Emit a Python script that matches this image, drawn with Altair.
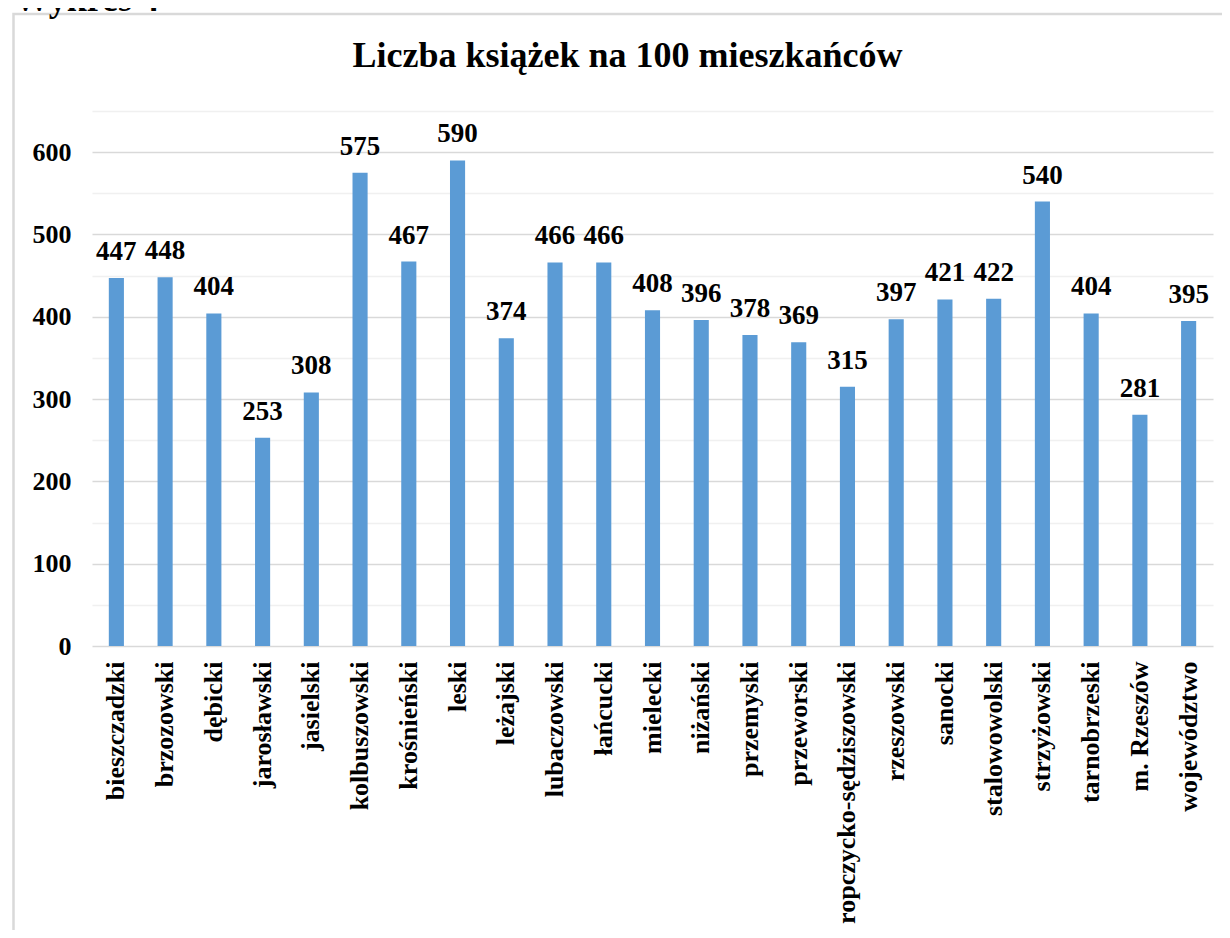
import altair as alt
import pandas as pd

categories = ["bieszczadzki", "brzozowski", "dębicki", "jarosławski", "jasielski",
              "kolbuszowski", "krośnieński", "leski", "leżajski", "lubaczowski",
              "łańcucki", "mielecki", "niżański", "przemyski", "przeworski",
              "ropczycko-sędziszowski", "rzeszowski", "sanocki", "stalowowolski",
              "strzyżowski", "tarnobrzeski", "m. Rzeszów", "województwo"]
values = [447, 448, 404, 253, 308, 575, 467, 590, 374, 466, 466, 408, 396, 378,
          369, 315, 397, 421, 422, 540, 404, 281, 395]
y_ticks = [0, 50, 100, 150, 200, 250, 300, 350, 400, 450, 500, 550, 600, 650]

title_text = "Liczba książek na 100 mieszkańców"
caption_text = "Wykres 4"

df = pd.DataFrame({"powiat": categories, "wartosc": values})
one = pd.DataFrame({"k": [0]})

FONT = "Liberation Serif"

x_enc = alt.X("powiat:N", sort=categories, title=None,
              scale=alt.Scale(paddingInner=0.69, paddingOuter=0.345),
              axis=alt.Axis(labelAngle=-90, labelFont=FONT, labelFontWeight="bold",
                            labelFontSize=26, labelColor="#000000", labelPadding=15,
                            labelLimit=400, ticks=False, domain=False, grid=False))
y_enc = alt.Y("wartosc:Q", title=None,
              scale=alt.Scale(domain=[0, 650], nice=False),
              axis=alt.Axis(values=y_ticks,
                            labelExpr="datum.value % 100 === 0 && datum.value < 650 ? datum.label : ''",
                            labelFont=FONT, labelFontWeight="bold", labelFontSize=26,
                            labelColor="#000000", labelPadding=21, ticks=False,
                            domain=False, grid=True, gridWidth=1.3,
                            gridColor={"condition": {"test": "datum.value % 100 === 0",
                                                     "value": "#d9d9d9"},
                                       "value": "#f0f0f0"}))

bars = alt.Chart(df).mark_bar(color="#5B9BD5").encode(x=x_enc, y=y_enc)

labels = alt.Chart(df).mark_text(font=FONT, fontWeight="bold", fontSize=27,
                                 color="#000000", baseline="alphabetic",
                                 align="center", dy=-18).encode(
    x=alt.X("powiat:N", sort=categories),
    y=alt.Y("wartosc:Q"),
    text=alt.Text("wartosc:Q"))

frame = alt.Chart(one).mark_rect(fill="#ffffff", fillOpacity=0, stroke="#d9d9d9",
                                 strokeWidth=2.5).encode(
    x=alt.value(-78.5), x2=alt.value(1300), y=alt.value(-97), y2=alt.value(1000))

title = alt.Chart(one).mark_text(font=FONT, fontWeight="bold", fontSize=36,
                                 color="#000000", align="center",
                                 baseline="alphabetic").encode(
    x=alt.value(535.5), y=alt.value(-44), text=alt.value(title_text))

caption = alt.Chart(one).mark_text(font=FONT, fontWeight="bold", fontSize=36,
                                   color="#000000", align="left",
                                   baseline="alphabetic").encode(
    x=alt.value(-78), y=alt.value(-100), text=alt.value(caption_text))

chart = alt.layer(frame, bars, labels, title, caption).properties(
    width=1121, height=535,
    autosize=alt.AutoSizeParams(type="none"),
    padding={"left": 84, "top": 103, "right": 9, "bottom": 284},
    background="#ffffff"
).configure_view(stroke=None)

chart.save("out.html", embed_options={"renderer": "svg", "actions": False})
